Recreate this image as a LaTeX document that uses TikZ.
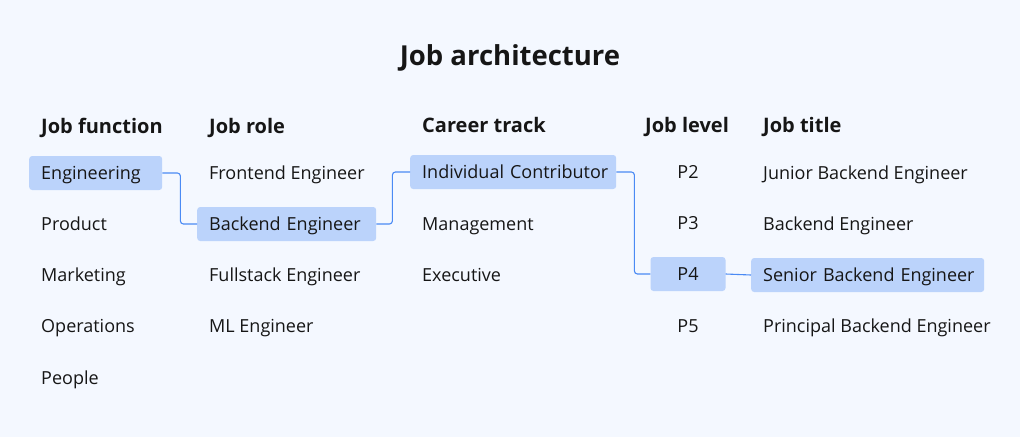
\documentclass[tikz,border=0pt]{standalone}
\usepackage{fontspec}
\setmainfont{Open Sans}
\usepackage{tikz}
\usetikzlibrary{positioning}
\definecolor{pagebg}{HTML}{F4F8FF}
\definecolor{pick}{HTML}{BBD3FB}
\definecolor{linkblue}{HTML}{4A8AF4}
\definecolor{ink}{HTML}{161616}

\begin{document}
\begin{tikzpicture}[x=1pt,y=-1pt]
        \tikzstyle{every node}=[text=ink]
        \tikzstyle{item} = [anchor=west, font=\fontsize{18}{20}\selectfont, inner xsep=12pt, inner ysep=0pt, minimum height=34pt, text height=16pt, text depth=3pt, align=left]
        \tikzstyle{picked} = [item, fill=pick, rounded corners=3pt]
        \tikzstyle{level} = [item, anchor=center, minimum width=75pt, align=center]
        \tikzstyle{head} = [anchor=base west, inner sep=0pt, font=\fontsize{20}{22}\selectfont\bfseries]
        \tikzstyle{link} = [draw=linkblue, line width=1.1pt, rounded corners=3pt]

        \fill[pagebg] (0,0) rectangle (1020,437);
        \useasboundingbox (0,0) rectangle (1020,437);

        \node[anchor=base, inner sep=0pt, font=\fontsize{27.5}{30}\selectfont\bfseries](title) at (510,65) {Job architecture};

        % column heads
        \node[head](hfun) at (41,133) {Job function};
        \node[head](hrole) at (209,133) {Job role};
        \node[head](htrack) at (422,132) {Career track};
        \node[head](hlevel) at (645,132) {Job level};
        \node[head](htitle) at (763,132) {Job title};

        % job function
        \node[picked, text width=109pt](eng) at (29,173) {\mbox{Engineering}};
        \node[item](prod) at (29,224) {Product};
        \node[item](mkt) at (29,275) {Marketing};
        \node[item](ops) at (29,326) {Operations};
        \node[item](ppl) at (29,378) {People};

        % job role
        \node[item](fe) at (197,173) {Frontend Engineer};
        \node[picked, text width=155pt](be) at (197,224) {\mbox{Backend Engineer}};
        \node[item](fs) at (197,275) {Fullstack Engineer};
        \node[item](ml) at (197,326) {ML Engineer};

        % career track
        \node[picked, text width=182pt](ic) at (410,172) {\mbox{Individual Contributor}};
        \node[item](mgmt) at (410,224) {Management};
        \node[item](exec) at (410,275) {Executive};

        % job level
        \node[level](p2) at (688,172) {P2};
        \node[level](p3) at (688,223) {P3};
        \node[level, fill=pick, rounded corners=3pt](p4) at (688,274) {P4};
        \node[level](p5) at (688,326) {P5};

        % job title
        \node[item](jr) at (751,173) {Junior Backend Engineer};
        \node[item](mid) at (751,224) {Backend Engineer};
        \node[picked, text width=209pt](sr) at (751,275) {\mbox{Senior Backend Engineer}};
        \node[item](pr) at (751,326) {Principal Backend Engineer};

        \draw[link] (eng.east) -- ++(18,0) |- (be.west);
        \draw[link] (be.east) -- ++(16,0) |- (ic.west);
        \draw[link] (ic.east) -- ++(18,0) |- (p4.west);
        \draw[link] (p4.east) -- (sr.west);

\end{tikzpicture}
\end{document}
